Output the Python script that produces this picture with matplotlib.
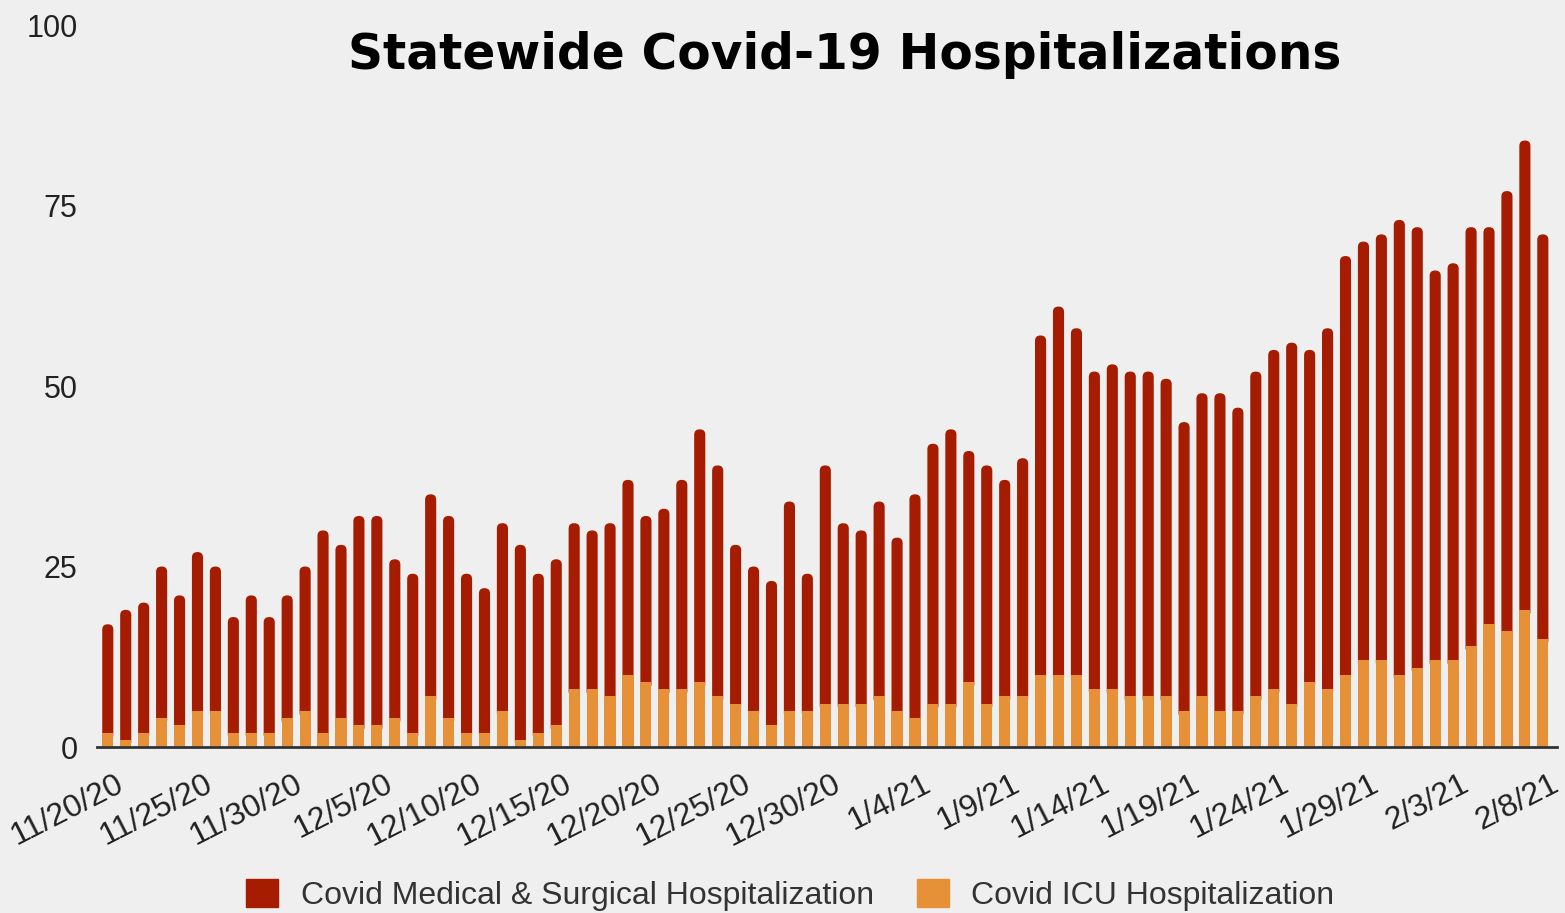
import numpy as np
import matplotlib
matplotlib.use("Agg")
from matplotlib import pyplot as plt
from matplotlib.patches import Patch, FancyBboxPatch
from matplotlib.transforms import ScaledTranslation

plt.rcParams["font.family"] = ["Liberation Sans", "DejaVu Sans"]

# daily values, 11/20/20 .. 2/8/21
icu = [2, 1, 2, 4, 3, 5, 5, 2, 2, 2,
       4, 5, 2, 4, 3, 3, 4, 2, 7, 4,
       2, 2, 5, 1, 2, 3, 8, 8, 7, 10,
       9, 8, 8, 9, 7, 6, 5, 3, 5, 5,
       6, 6, 6, 7, 5, 4, 6, 6, 9, 6,
       7, 7, 10, 10, 10, 8, 8, 7, 7, 7,
       5, 7, 5, 5, 7, 8, 6, 9, 8, 10,
       12, 12, 10, 11, 12, 12, 14, 17, 16, 19, 15]
medical = [15, 18, 18, 21, 18, 22, 20, 16, 19, 16,
           17, 20, 28, 24, 29, 29, 22, 22, 28, 28,
           22, 20, 26, 27, 22, 23, 23, 22, 24, 27,
           23, 25, 29, 35, 32, 22, 20, 20, 29, 19,
           33, 25, 24, 27, 24, 31, 36, 38, 32, 33,
           30, 33, 47, 51, 48, 44, 45, 45, 45, 44,
           40, 42, 44, 42, 45, 47, 50, 46, 50, 58,
           58, 59, 63, 61, 54, 55, 58, 55, 61, 65, 56]

tick_labels = ["11/20/20", "11/25/20", "11/30/20", "12/5/20", "12/10/20",
               "12/15/20", "12/20/20", "12/25/20", "12/30/20", "1/4/21",
               "1/9/21", "1/14/21", "1/19/21", "1/24/21", "1/29/21",
               "2/3/21", "2/8/21"]

RED = "#a61c00"
ORANGE = "#e69138"
BG = "#efefef"

x = np.arange(len(icu))

fig = plt.figure(figsize=(15.65, 9.13), dpi=100, facecolor=BG)
ax = fig.add_axes([0.062, 0.1818, 0.933, 0.7908], facecolor=BG)
ax.set_xlim(-0.6, 80.8)
ax.set_ylim(0, 100)

# red bars stacked on the ICU part; tops get rounded like the original
red = ax.bar(x, medical, width=0.62, bottom=icu, color=RED, linewidth=0)
ax.bar(x, icu, width=0.62, color=ORANGE, linewidth=0, zorder=3)

# x/y pixel ratio so the rounded corner comes out circular
bb = ax.get_window_extent()
aspect = (bb.width / 81.4) / (bb.height / 100)
for rect in red.patches:
    rx, ry = rect.get_xy()
    w, h = rect.get_width(), rect.get_height()
    cap = FancyBboxPatch((rx, ry - 1.0), w, h + 1.0,
                         boxstyle="round,pad=0,rounding_size=0.3",
                         mutation_aspect=aspect, facecolor=RED,
                         linewidth=0, zorder=2)
    ax.add_patch(cap)
    rect.remove()

ax.set_yticks([0, 25, 50, 75, 100])
ax.tick_params(axis="y", length=0, pad=14, labelsize=22, labelcolor="#222222")
ax.tick_params(axis="x", length=0, pad=16, labelsize=23, labelcolor="#222222")

ax.set_xticks(x[::5])
ax.set_xticklabels(tick_labels, rotation=27, ha="right", va="top",
                   rotation_mode="anchor")
shift = ScaledTranslation(7 / 100, 0, fig.dpi_scale_trans)
for lab in ax.get_xticklabels():
    lab.set_transform(lab.get_transform() + shift)

for s in ["top", "right", "left"]:
    ax.spines[s].set_visible(False)
ax.spines["bottom"].set_color("#333333")
ax.spines["bottom"].set_linewidth(2)
ax.spines["bottom"].set_zorder(4)

fig.text(0.54, 0.94, "Statewide Covid-19 Hospitalizations", ha="center",
         va="center", fontsize=35, fontweight="bold", color="black",
         family="DejaVu Sans")

handles = [Patch(color=RED), Patch(color=ORANGE)]
fig.legend(handles, ["Covid Medical & Surgical Hospitalization",
                     "Covid ICU Hospitalization"],
           loc="center", bbox_to_anchor=(0.505, 0.02), ncol=2, frameon=False,
           fontsize=23, handlelength=1.0, handleheight=1.0,
           handletextpad=0.7, columnspacing=1.35, labelcolor="#333333")

fig.savefig("out.png", dpi=100, facecolor=BG)
